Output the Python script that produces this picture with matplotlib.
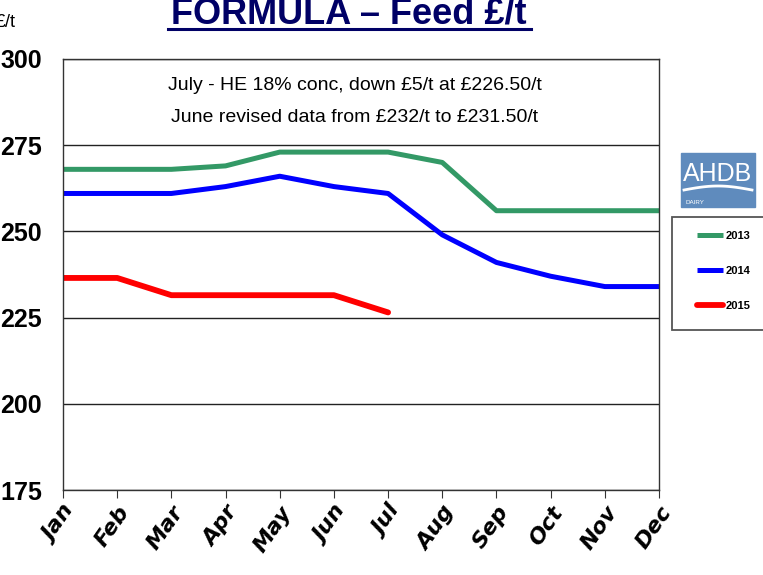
import numpy as np
import matplotlib.pyplot as plt
from matplotlib.lines import Line2D
from matplotlib.patches import Rectangle

months = ['Jan', 'Feb', 'Mar', 'Apr', 'May', 'Jun',
          'Jul', 'Aug', 'Sep', 'Oct', 'Nov', 'Dec']
feed_2013 = [268, 268, 268, 269, 273, 273, 273, 270, 256, 256, 256, 256]
feed_2014 = [261, 261, 261, 263, 266, 263, 261, 249, 241, 237, 234, 234]
feed_2015 = [236.5, 236.5, 231.5, 231.5, 231.5, 231.5, 226.5]
y_ticks = [175, 200, 225, 250, 275, 300]

W, H = 763, 575
fig = plt.figure(figsize=(W / 100, H / 100), dpi=100)
ax = fig.add_axes([63 / W, 1 - 490 / H, (659 - 63) / W, (490 - 59) / H])

ax.plot(range(12), feed_2013, color='#339966', lw=3.6, solid_capstyle='butt', label='2013')
ax.plot(range(12), feed_2014, color='#0000ff', lw=3.6, solid_capstyle='butt', label='2014')
ax.plot(range(len(feed_2015)), feed_2015, color='#ff0000', lw=4.2,
        solid_capstyle='round', label='2015')

ax.set_xlim(0, 11)
ax.set_ylim(175, 300)
ax.set_yticks(y_ticks)
ax.set_xticks(range(12))
ax.yaxis.grid(True, color='#222222', lw=1.0)
ax.set_axisbelow(True)
for s in ax.spines.values():
    s.set_color('#333333')
    s.set_linewidth(1.0)
ax.tick_params(axis='y', length=0, pad=15)
ax.tick_params(axis='x', length=6, direction='out', color='#333333', pad=3)

ax.set_yticklabels([str(v) for v in y_ticks], family='Liberation Sans',
                   fontweight='bold', fontsize=18)
ax.set_xticklabels(months, rotation=55, ha='right', rotation_mode='anchor',
                   fontstyle='italic', fontweight='bold', fontsize=16)

ax.text(0.49, 1 - 26 / 431, 'July - HE 18% conc, down £5/t at £226.50/t',
        transform=ax.transAxes, ha='center', va='center', fontsize=14,
        family='Liberation Sans')
ax.text(0.49, 1 - 58 / 431, 'June revised data from £232/t to £231.50/t',
        transform=ax.transAxes, ha='center', va='center', fontsize=14,
        family='Liberation Sans')

# title (cut off at the top of the slide)
fig.text(349 / W, 1 - 24 / H, 'FORMULA – Feed £/t', ha='center', va='baseline',
         fontsize=26, fontweight='bold', color='#000066', family='Liberation Sans')
fig.add_artist(Line2D([168 / W, 531 / W], [1 - 29 / H, 1 - 29 / H],
                      color='#000066', lw=2.2))
fig.text(-4 / W, 1 - 27 / H, '£/t', ha='left', va='baseline', fontsize=13,
         family='Liberation Sans')

# AHDB logo
fig.add_artist(Rectangle((681 / W, 1 - 207 / H), 74 / W, 54 / H,
                         transform=fig.transFigure, color='#5f8bbd'))
fig.text(718 / W, 1 - 181 / H, 'AHDB', ha='center', va='baseline',
         fontsize=18, color='white', family='Liberation Sans')
sx = np.linspace(684, 752, 40)
sy = 190 - 4 * np.sin((sx - 684) / 68 * np.pi)
fig.add_artist(Line2D(sx / W, 1 - sy / H, color='white', lw=2))
fig.text(685 / W, 1 - 204 / H, 'DAIRY', ha='left', va='baseline',
         fontsize=4.5, color='white', family='Liberation Sans')

# legend
fig.add_artist(Rectangle((672 / W, 1 - 330 / H), 100 / W, 113 / H,
                         transform=fig.transFigure, facecolor='white',
                         edgecolor='#555555', lw=1.3))
leg = fig.legend(handles=ax.get_lines(), loc='upper left',
                 bbox_to_anchor=(697 / W, 1 - 231 / H), frameon=False,
                 handlelength=2.3, handletextpad=0.3,
                 labelspacing=2.25, borderpad=0, borderaxespad=0,
                 prop={'family': 'Liberation Sans', 'weight': 'bold',
                       'size': 8})

fig.savefig('out.png', dpi=100)
